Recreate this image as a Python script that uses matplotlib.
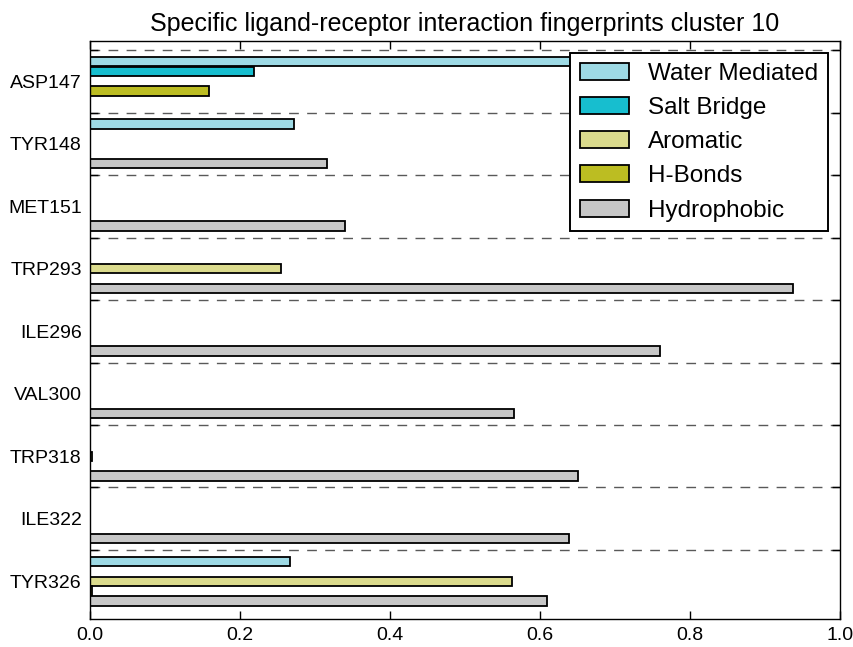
import numpy as np
import matplotlib
matplotlib.use("Agg")
import matplotlib.pyplot as plt

plt.rcParams["font.family"] = ["Liberation Sans", "DejaVu Sans"]

residues = ["ASP147", "TYR148", "MET151", "TRP293", "ILE296",
            "VAL300", "TRP318", "ILE322", "TYR326"]

series_names = ["Water Mediated", "Salt Bridge", "Aromatic", "H-Bonds", "Hydrophobic"]
series_colors = ["#9edae5", "#17becf", "#dbdb8d", "#bcbd22", "#c7c7c7"]

water_mediated = [0.87, 0.272, 0.0, 0.0, 0.0, 0.0, 0.0, 0.0, 0.266]
salt_bridge = [0.219, 0.0, 0.0, 0.0, 0.0, 0.0, 0.0, 0.0, 0.0]
aromatic = [0.0, 0.0, 0.0, 0.255, 0.0, 0.0, 0.003, 0.0, 0.562]
h_bonds = [0.159, 0.0, 0.0, 0.0, 0.0, 0.0, 0.0, 0.0, 0.003]
hydrophobic = [0.0, 0.316, 0.340, 0.938, 0.760, 0.565, 0.651, 0.639, 0.609]

series_values = [water_mediated, salt_bridge, aromatic, h_bonds, hydrophobic]

fig = plt.figure(figsize=(8.54, 6.47), dpi=100)
ax = fig.add_axes([0.1054, 0.0433, 0.8782, 0.8933])

ypos = np.arange(len(residues))
step = 0.157
bar_h = 0.15

for k, (name, color, vals) in enumerate(zip(series_names, series_colors, series_values)):
    ax.barh(ypos + (k - 2) * step, vals, height=bar_h, color=color,
            edgecolor="black", linewidth=1.3, label=name, zorder=2)

ax.set_xlim(0, 1.0)
ax.set_ylim(len(residues) - 0.5 + 0.104, -0.5 - 0.144)

# group separators as major y ticks, residue names as minor ticks
ax.set_yticks(ypos - 0.5)
ax.set_yticklabels([])
ax.set_yticks(ypos, minor=True)
ax.set_yticklabels(residues, minor=True, fontsize=14)
ax.tick_params(axis="y", which="minor", length=0, pad=6)
ax.tick_params(axis="y", which="major", direction="in", length=6,
               left=True, right=True, width=1)
ax.yaxis.grid(True, which="major", color="0.35", linestyle=(0, (7, 6)),
              linewidth=1.0, zorder=1)
ax.set_axisbelow(True)

ax.set_xticks(np.arange(0, 1.01, 0.2))
ax.set_xticklabels([f"{v:.1f}" for v in np.arange(0, 1.01, 0.2)], fontsize=14)
ax.tick_params(axis="x", direction="in", length=6, top=True, bottom=True,
               width=1, pad=6)

for sp in ax.spines.values():
    sp.set_linewidth(1.0)
    sp.set_color("black")

ax.set_title("Specific ligand-receptor interaction fingerprints cluster 10",
             fontsize=18, pad=7)

leg = ax.legend(loc="upper right", fontsize=17.5, fancybox=False,
                framealpha=1.0, edgecolor="black", handlelength=2.0,
                borderaxespad=0.5)
leg.get_frame().set_linewidth(1.4)

fig.savefig("out.png", dpi=100)
